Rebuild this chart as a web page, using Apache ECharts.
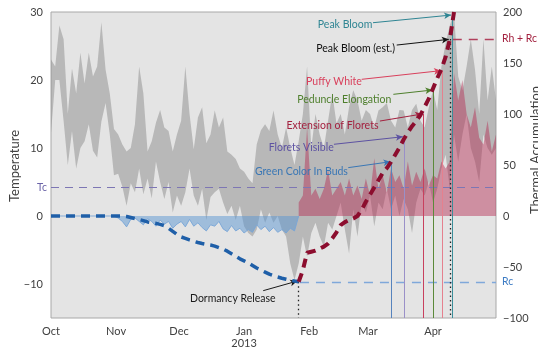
<!DOCTYPE html>
<html><head><meta charset="utf-8">
<script src="https://cdn.jsdelivr.net/npm/echarts@6/dist/echarts.min.js"></script>
<style>html,body{margin:0;padding:0;background:#fff}#c{width:538px;height:347px}</style>
</head><body><div id="c"></div>
<script>
// ---- data ----
// day index counted from 2012-10-01
const days = [0,2,4,6,8,10,12,14,16,18,20,22,24,26,28,30,32,34,36,38,40,42,44,46,48,50,52,54,56,58,60,62,64,66,68,70,72,74,76,78,80,82,84,86,88,90,92,94,96,98,100,102,104,106,108,110,112,114,116,118,120,122,124,126,128,130,132,134,136,138,140,142,144,146,148,150,152,154,156,158,160,162,164,166,168,170,172,174,176,178,180,182,184,186,188,190,192,194,196,198,200,202,204,206,208,210,212];
const monthStart = [0,31,61,92,123,151,182];
const monthLabel = ['Oct','Nov','Dec','Jan\n2013','Feb','Mar','Apr'];
const tmax = [23,22,28,26,15,21.7,18,24,19.5,24,20.5,22,28.5,21.5,18,
  12.8,12,10.5,9.5,10,13.5,22,18,9.5,11,13.7,15.6,13,12.5,9.5,
  12,14,22,15,9.8,14.5,16,10.7,12,15.5,13,14.5,9.5,9,8.4,
  7,6.5,5.5,4.8,10.5,12.6,13.5,12.5,15.5,12,10,13,10,7.5,11,
  15,22,10,15,12,10,14,18,13.6,15,12,16,18.5,17,14,
  15.6,15,13,15.5,16,16.6,14,13,15.6,15.5,13,15.6,16.5,14,13,
  16,18.5,15.6,22,25.4,28,29.8,20.5,18.5,22,26,21.5,15,26,17,
  22,17];
const tmin = [12.2,20,20,14,7.5,12.5,7,10,11,13.5,9.6,8.6,13.9,16.6,12,
  6,6.2,4.3,1.5,4.8,3.5,7,3.2,5.5,2.6,8,5,2.5,5,0.5,
  3,1.5,3.5,7,3,1.5,4,-0.6,2.8,3.5,4,2,0.3,1.5,-0.6,
  1.5,-1.5,-2.5,-3,-2,1,-1,0.5,-1,0,-2,-3,-7,-9.4,-7,
  -3,-6,-2.5,-1,-3,-4.5,-1,-2,0,2,-2,-5.5,1,-3,2,
  0.5,3,-1.5,2,1,4,1,3,0,2.5,1,-2.5,2,4,3,
  5,2,4,7,9,4,12,8,12,15,10,8,5,12,10,
  9,10];
// chill (below 0) from day 0 to day 118
const chill = [0,0,0,0,0,0,0,0,0,0,0,0,0,0,0,0,
  -0.3,-0.8,-1.6,-0.5,-0.3,-0.8,-1.3,-0.4,-0.8,-1.5,-0.6,-1.2,-0.8,-1.8,-1.2,-0.8,
  -1.6,-0.5,-1.5,-1.0,-1.7,-2.2,-1.3,-1.5,-0.8,-1.9,-2.3,-1.4,-2.2,-1.8,-2.5,-2.0,
  -2.4,-1.3,-2.0,-1.5,-2.3,-1.7,-2.4,-2.0,-2.5,-1.8,-2.2,0];
// heat (above 0) from day 118 to day 212
const heat = [2,3,13,3,4,2.5,4,6.8,3,4,5,3,5.5,3,4.5,2.5,
  5.5,3,8.5,4,6,3.5,7,5,6,4,8,4.5,6.5,5,7,4.5,
  6,5.5,8,7,8,21,17,20,15,13,16,11.5,10.5,14,9.5,12];
// accumulated chill (day 0..118) and heat (day 118..192), right axis
const chillAcc = [0,0,0,0,0,0,0,0,0,0,0,0,0,0,0,0,0,0,
  -0.5,-1.5,-2.5,-3.5,-4.5,-5.8,-6.5,-7.2,-8.2,-9.5,-12,-15,-18,-20.5,-22,-23.5,-24.8,-26,-27,-27.8,-28.5,-29.5,-31,-32.5,-34.5,-37,-39.5,-42,-44,-46,-48.5,-51,-53,-55,-57,-58.5,-59.8,-61,-62,-63,-63.8,-64.5];
const heatAcc = [-64.5,-53,-36,-35,-34,-32,-30,-27,-22,-16,-9,-6,-4,-2.5,0,6,14,21,28,35,42,47,53,60,67,75,82,88,93,99,107,115,125,135,144,156,173,200];
const Tc = 4.2;
const Rc = -64.5;
const RhRc = 173.5;
const stageNames = ['Dormancy Release','Green Color In Buds','Florets Visible','Extension of Florets','Peduncle Elongation','Puffy White','Peak Bloom (est.)','Peak Bloom'];
const stageDay = [117.8,162.2,168.1,177.3,182.2,186.3,190.0,191.1];
const stageAcc = [-64.5,53,77.7,100,123.5,142.5,173.5,200];

// ---- layout / style ----
const FONT = 'Lato';
const labelPos = [[86.6,-80.7],[119.3,43.1],[119.2,67.4],[134.1,88.5],[139.7,113.7],[134.8,131.4],[145.1,163.7],[140.1,187.3]];
const arrowFrom = [[101.1,-73.2],[141.6,47.4],[134.8,70.3],[156.7,93.1],[163.1,119.3],[148.0,134.0],[164.7,167.6],[153.4,189.5]];
const arrowEndAcc = [-63.8,53.2,77.7,100,123.5,142.5,173.2,197];
const textColor = ['#1a1a1a','#3a77b5','#5d52a2','#a3213f','#4e7f2c','#d9405c','#111111','#2f8593'];
const stageLineColor = ['#222222','#5683bd','#9a90c8','#c8405e','#5b8a3a','#e5808e','#222222','#3a8e9a'];
const dottedStage = [true,false,false,false,false,false,true,false];

const fmtNum = v => v < 0 ? '\u2212' + Math.abs(v) : String(v);
const bandData = days.map((d,i)=>[d, tmin[i], tmax[i]]);
const chillData = chill.map((v,i)=>[days[i], v]);
const heatData = heat.map((v,i)=>[days[59+i], v]);
const chillAccData = chillAcc.map((v,i)=>[days[i], v]);
const heatAccData = heatAcc.map((v,i)=>[days[59+i], v]);

const stageLines = stageNames.map((n,i)=>[
  {coord:[stageDay[i], stageAcc[i]], symbol:'none', lineStyle:{color:stageLineColor[i], width: dottedStage[i]?1.3:1, type: dottedStage[i]?[1.5,3]:'solid'}},
  {coord:[stageDay[i], -100], symbol:'none'}]);
const arrowLines = stageNames.map((n,i)=>[
  {coord:arrowFrom[i], symbol:'none', lineStyle:{color:textColor[i], width:1, type:'solid'}},
  {coord:[stageDay[i]-0.5, arrowEndAcc[i]], symbol:'arrow', symbolSize:[5,7]}]);
const labelPoints = stageNames.map((n,i)=>({
  coord:labelPos[i], symbol:'circle', symbolSize:1, itemStyle:{color:'rgba(0,0,0,0)'},
  label:{show:true, position:'inside', formatter:n, color:textColor[i], fontSize:10.5, fontFamily:FONT}}));

function renderBand(params, api) {
  if (params.dataIndex !== 0) return null;
  const n = bandData.length;
  const pts = [];
  for (let i = 0; i < n; i++) pts.push(api.coord([bandData[i][0], bandData[i][2]]));
  for (let i = n - 1; i >= 0; i--) pts.push(api.coord([bandData[i][0], bandData[i][1]]));
  return {type:'polygon', shape:{points:pts}, style:{fill:'rgba(140,140,140,0.5)'}};
}

const chart = echarts.init(document.getElementById('c'), null, {renderer:'canvas'});
chart.setOption({
  animation:false,
  textStyle:{fontFamily:FONT},
  grid:{left:51, right:42, top:12, bottom:29, show:true, backgroundColor:'#e4e4e4', borderColor:'#a8a8a8', borderWidth:1, containLabel:false, outerBoundsMode:'none'},
  graphic:[
    {type:'text', x:15, y:166, rotation:Math.PI/2, silent:true,
      style:{text:'Temperature', align:'center', verticalAlign:'middle', fontSize:13, fontFamily:FONT, fill:'#404040'}},
    {type:'text', x:536, y:150, rotation:Math.PI/2, silent:true,
      style:{text:'Thermal Accumulation', align:'center', verticalAlign:'middle', fontSize:13, fontFamily:FONT, fill:'#404040'}}
  ],
  xAxis:{type:'value', min:0, max:212, axisLine:{show:false}, axisTick:{show:false}, splitLine:{show:false},
    axisLabel:{customValues:monthStart, formatter:v=>monthLabel[monthStart.indexOf(v)], color:'#404040', fontSize:11, margin:7, lineHeight:12, fontFamily:FONT}},
  yAxis:[
    {type:'value', min:-15, max:30, interval:5, position:'left', axisLine:{show:false}, axisTick:{show:false}, splitLine:{show:false},
      axisLabel:{formatter:v=> v%10===0 ? fmtNum(v) : '', color:'#404040', fontSize:11, margin:8, fontFamily:FONT}},
    {type:'value', min:-100, max:200, interval:50, position:'right', axisLine:{show:false}, axisTick:{show:false}, splitLine:{show:false},
      axisLabel:{formatter:v=>fmtNum(v), color:'#404040', fontSize:11, margin:7, fontFamily:FONT}}
  ],
  series:[
    {type:'custom', data:bandData, encode:{x:0, y:[1,2]}, renderItem:renderBand, silent:true, z:1, clip:false,
      markLine:{silent:true, symbol:['none','none'], label:{show:false},
        data:[[{coord:[0,Tc], label:{show:true, position:'start', formatter:'Tc', color:'#6b64a8', fontSize:10.5, distance:4, fontFamily:FONT}, lineStyle:{color:'#7d76b4', type:[8,6], width:1}},{coord:[212,Tc]}]]}},
    {type:'line', data:chillData, symbol:'none', lineStyle:{width:1, color:'rgba(120,165,215,0.9)'}, areaStyle:{color:'rgba(90,150,210,0.5)', opacity:1}, silent:true, z:2},
    {type:'line', data:heatData, symbol:'none', lineStyle:{width:0, opacity:0}, areaStyle:{color:'rgba(180,40,80,0.45)', opacity:1}, silent:true, z:2},
    {type:'line', yAxisIndex:1, data:chillAccData, symbol:'none', lineStyle:{width:3.5, color:'#1f5fa8', type:[9,6]}, silent:true, z:5},
    {type:'line', yAxisIndex:1, data:heatAccData, symbol:'none', lineStyle:{width:4, color:'#8c0d2e', type:[9,6]}, silent:true, z:5, clip:false,
      markLine:{silent:true, symbol:['none','none'], label:{show:false}, animation:false,
        data:[
          [{coord:[118.6,Rc], label:{show:true, position:'end', formatter:'Rc', color:'#3d7cc4', fontSize:10.5, distance:6, fontFamily:FONT}, lineStyle:{color:'#7fa8da', type:[9,7], width:1.3}},{coord:[212,Rc]}],
          [{coord:[191.4,RhRc], label:{show:true, position:'end', formatter:'Rh + Rc', color:'#a3213f', fontSize:10.5, distance:6, fontFamily:FONT}, lineStyle:{color:'#b0405c', type:[9,7], width:1.3}},{coord:[212,RhRc]}],
          ...stageLines, ...arrowLines]},
      markPoint:{silent:true, data:labelPoints}}
  ]
});
</script></body></html>
